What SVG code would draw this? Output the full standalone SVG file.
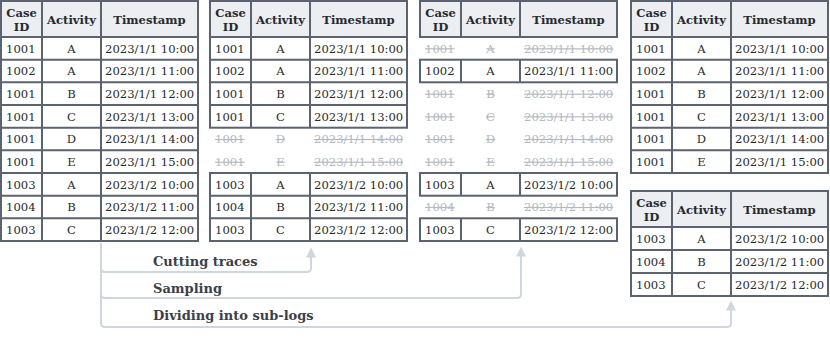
<svg xmlns="http://www.w3.org/2000/svg" xmlns:xlink="http://www.w3.org/1999/xlink" width="830" height="341" viewBox="0 0 830 341">
<style>
.bg{fill:#ffffff}
.hd{fill:#eceef1}
.bd{fill:none;stroke:#5b6371;stroke-width:2}
.ln{stroke:#5b6371;stroke-width:2}
.t{font-family:"DejaVu Serif",serif;font-size:11.6px;fill:#262a30}
.h{font-family:"DejaVu Serif",serif;font-size:11.6px;font-weight:bold;fill:#262a30}
.c{text-anchor:middle}
.f{fill:#b3b9c1;text-decoration:line-through}
.lab{font-family:"DejaVu Serif",serif;font-size:13px;font-weight:bold;fill:#3b4048}
.cn{fill:none;stroke:#d0d6de;stroke-width:2}
</style>
<defs>
<marker id="arr" viewBox="0 0 10 10" markerWidth="10" markerHeight="10" refX="0.5" refY="5" orient="auto" markerUnits="userSpaceOnUse">
<path d="M0,0 L10,5 L0,10 z" fill="#d0d6de"/>
</marker>
<g id="hdr">
<rect class="hd" x="0" y="0" width="197" height="36"/>
<text class="h c" x="20.5" y="15.5">Case</text>
<text class="h c" x="20.5" y="30">ID</text>
<text class="h c" x="70.5" y="23">Activity</text>
<text class="h c" x="148.5" y="23">Timestamp</text>
</g>
</defs>

<g id="connectors">
<path class="cn" d="M101 243 V268 Q101 272 105 272 H307 Q311 272 311 268 V257" marker-end="url(#arr)"/>
<path class="cn" d="M101 243 V294 Q101 298 105 298 H517 Q521 298 521 294 V256" marker-end="url(#arr)"/>
<path class="cn" d="M101 243 V323 Q101 327 105 327 H727 Q731 327 731 323 V310" marker-end="url(#arr)"/>
<text class="lab" x="153" y="266">Cutting traces</text>
<text class="lab" x="153" y="293">Sampling</text>
<text class="lab" x="153" y="320">Dividing into sub-logs</text>
</g>

<g id="original-log" transform="translate(1,0)">
<rect class="bg" x="0" y="1" width="197" height="240"/>
<use href="#hdr" y="1"/>
<path class="ln" d="M0 37H197M0 59.7H197M0 82.3H197M0 105H197M0 127.7H197M0 150.3H197M0 173H197M0 195.7H197M0 218.3H197M41 1V241M100 1V241"/>
<rect class="bd" x="0" y="1" width="197" height="240"/>
<text class="t" x="5" y="52.5">1001</text><text class="t c" x="70.5" y="52.5">A</text><text class="t" x="104" y="52.5">2023/1/1 10:00</text>
<text class="t" x="5" y="75.2">1002</text><text class="t c" x="70.5" y="75.2">A</text><text class="t" x="104" y="75.2">2023/1/1 11:00</text>
<text class="t" x="5" y="97.9">1001</text><text class="t c" x="70.5" y="97.9">B</text><text class="t" x="104" y="97.9">2023/1/1 12:00</text>
<text class="t" x="5" y="120.5">1001</text><text class="t c" x="70.5" y="120.5">C</text><text class="t" x="104" y="120.5">2023/1/1 13:00</text>
<text class="t" x="5" y="143.2">1001</text><text class="t c" x="70.5" y="143.2">D</text><text class="t" x="104" y="143.2">2023/1/1 14:00</text>
<text class="t" x="5" y="165.9">1001</text><text class="t c" x="70.5" y="165.9">E</text><text class="t" x="104" y="165.9">2023/1/1 15:00</text>
<text class="t" x="5" y="188.5">1003</text><text class="t c" x="70.5" y="188.5">A</text><text class="t" x="104" y="188.5">2023/1/2 10:00</text>
<text class="t" x="5" y="211.2">1004</text><text class="t c" x="70.5" y="211.2">B</text><text class="t" x="104" y="211.2">2023/1/2 11:00</text>
<text class="t" x="5" y="233.9">1003</text><text class="t c" x="70.5" y="233.9">C</text><text class="t" x="104" y="233.9">2023/1/2 12:00</text>
</g>

<g id="cutting-traces" transform="translate(210,0)">
<rect class="bg" x="0" y="1" width="197" height="126.7"/>
<use href="#hdr" y="1"/>
<path class="ln" d="M0 37H197M0 59.7H197M0 82.3H197M0 105H197M41 1V127.7M100 1V127.7"/>
<rect class="bd" x="0" y="1" width="197" height="126.7"/>
<rect class="bg" x="0" y="173" width="197" height="68"/>
<path class="ln" d="M0 195.7H197M0 218.3H197M41 173V241M100 173V241"/>
<rect class="bd" x="0" y="173" width="197" height="68"/>
<text class="t" x="5" y="52.5">1001</text><text class="t c" x="70.5" y="52.5">A</text><text class="t" x="104" y="52.5">2023/1/1 10:00</text>
<text class="t" x="5" y="75.2">1002</text><text class="t c" x="70.5" y="75.2">A</text><text class="t" x="104" y="75.2">2023/1/1 11:00</text>
<text class="t" x="5" y="97.9">1001</text><text class="t c" x="70.5" y="97.9">B</text><text class="t" x="104" y="97.9">2023/1/1 12:00</text>
<text class="t" x="5" y="120.5">1001</text><text class="t c" x="70.5" y="120.5">C</text><text class="t" x="104" y="120.5">2023/1/1 13:00</text>
<text class="t f" x="5" y="143.2">1001</text><text class="t c f" x="70.5" y="143.2">D</text><text class="t f" x="104" y="143.2">2023/1/1 14:00</text>
<text class="t f" x="5" y="165.9">1001</text><text class="t c f" x="70.5" y="165.9">E</text><text class="t f" x="104" y="165.9">2023/1/1 15:00</text>
<text class="t" x="5" y="188.5">1003</text><text class="t c" x="70.5" y="188.5">A</text><text class="t" x="104" y="188.5">2023/1/2 10:00</text>
<text class="t" x="5" y="211.2">1004</text><text class="t c" x="70.5" y="211.2">B</text><text class="t" x="104" y="211.2">2023/1/2 11:00</text>
<text class="t" x="5" y="233.9">1003</text><text class="t c" x="70.5" y="233.9">C</text><text class="t" x="104" y="233.9">2023/1/2 12:00</text>
</g>

<g id="sampling" transform="translate(420,0)">
<use href="#hdr" y="1"/>
<path class="ln" d="M41 1V37M100 1V37"/>
<rect class="bd" x="0" y="1" width="197" height="36"/>
<rect class="bg" x="0" y="59.7" width="197" height="22.6"/>
<path class="ln" d="M41 59.7V82.3M100 59.7V82.3"/>
<rect class="bd" x="0" y="59.7" width="197" height="22.6"/>
<rect class="bg" x="0" y="173" width="197" height="22.7"/>
<path class="ln" d="M41 173V195.7M100 173V195.7"/>
<rect class="bd" x="0" y="173" width="197" height="22.7"/>
<rect class="bg" x="0" y="218.3" width="197" height="22.7"/>
<path class="ln" d="M41 218.3V241M100 218.3V241"/>
<rect class="bd" x="0" y="218.3" width="197" height="22.7"/>
<text class="t f" x="5" y="52.5">1001</text><text class="t c f" x="70.5" y="52.5">A</text><text class="t f" x="104" y="52.5">2023/1/1 10:00</text>
<text class="t" x="5" y="75.2">1002</text><text class="t c" x="70.5" y="75.2">A</text><text class="t" x="104" y="75.2">2023/1/1 11:00</text>
<text class="t f" x="5" y="97.9">1001</text><text class="t c f" x="70.5" y="97.9">B</text><text class="t f" x="104" y="97.9">2023/1/1 12:00</text>
<text class="t f" x="5" y="120.5">1001</text><text class="t c f" x="70.5" y="120.5">C</text><text class="t f" x="104" y="120.5">2023/1/1 13:00</text>
<text class="t f" x="5" y="143.2">1001</text><text class="t c f" x="70.5" y="143.2">D</text><text class="t f" x="104" y="143.2">2023/1/1 14:00</text>
<text class="t f" x="5" y="165.9">1001</text><text class="t c f" x="70.5" y="165.9">E</text><text class="t f" x="104" y="165.9">2023/1/1 15:00</text>
<text class="t" x="5" y="188.5">1003</text><text class="t c" x="70.5" y="188.5">A</text><text class="t" x="104" y="188.5">2023/1/2 10:00</text>
<text class="t f" x="5" y="211.2">1004</text><text class="t c f" x="70.5" y="211.2">B</text><text class="t f" x="104" y="211.2">2023/1/2 11:00</text>
<text class="t" x="5" y="233.9">1003</text><text class="t c" x="70.5" y="233.9">C</text><text class="t" x="104" y="233.9">2023/1/2 12:00</text>
</g>

<g id="sublog-1" transform="translate(631,0)">
<rect class="bg" x="0" y="1" width="197" height="172"/>
<use href="#hdr" y="1"/>
<path class="ln" d="M0 37H197M0 59.7H197M0 82.3H197M0 105H197M0 127.7H197M0 150.3H197M41 1V173M100 1V173"/>
<rect class="bd" x="0" y="1" width="197" height="172"/>
<text class="t" x="5" y="52.5">1001</text><text class="t c" x="70.5" y="52.5">A</text><text class="t" x="104" y="52.5">2023/1/1 10:00</text>
<text class="t" x="5" y="75.2">1002</text><text class="t c" x="70.5" y="75.2">A</text><text class="t" x="104" y="75.2">2023/1/1 11:00</text>
<text class="t" x="5" y="97.9">1001</text><text class="t c" x="70.5" y="97.9">B</text><text class="t" x="104" y="97.9">2023/1/1 12:00</text>
<text class="t" x="5" y="120.5">1001</text><text class="t c" x="70.5" y="120.5">C</text><text class="t" x="104" y="120.5">2023/1/1 13:00</text>
<text class="t" x="5" y="143.2">1001</text><text class="t c" x="70.5" y="143.2">D</text><text class="t" x="104" y="143.2">2023/1/1 14:00</text>
<text class="t" x="5" y="165.9">1001</text><text class="t c" x="70.5" y="165.9">E</text><text class="t" x="104" y="165.9">2023/1/1 15:00</text>
</g>

<g id="sublog-2" transform="translate(631,0)">
<rect class="bg" x="0" y="191" width="197" height="105"/>
<use href="#hdr" y="191"/>
<path class="ln" d="M0 227H197M0 250H197M0 273H197M41 191V296M100 191V296"/>
<rect class="bd" x="0" y="191" width="197" height="105"/>
<text class="t" x="5" y="242.7">1003</text><text class="t c" x="70.5" y="242.7">A</text><text class="t" x="104" y="242.7">2023/1/2 10:00</text>
<text class="t" x="5" y="265.7">1004</text><text class="t c" x="70.5" y="265.7">B</text><text class="t" x="104" y="265.7">2023/1/2 11:00</text>
<text class="t" x="5" y="288.7">1003</text><text class="t c" x="70.5" y="288.7">C</text><text class="t" x="104" y="288.7">2023/1/2 12:00</text>
</g>
</svg>
